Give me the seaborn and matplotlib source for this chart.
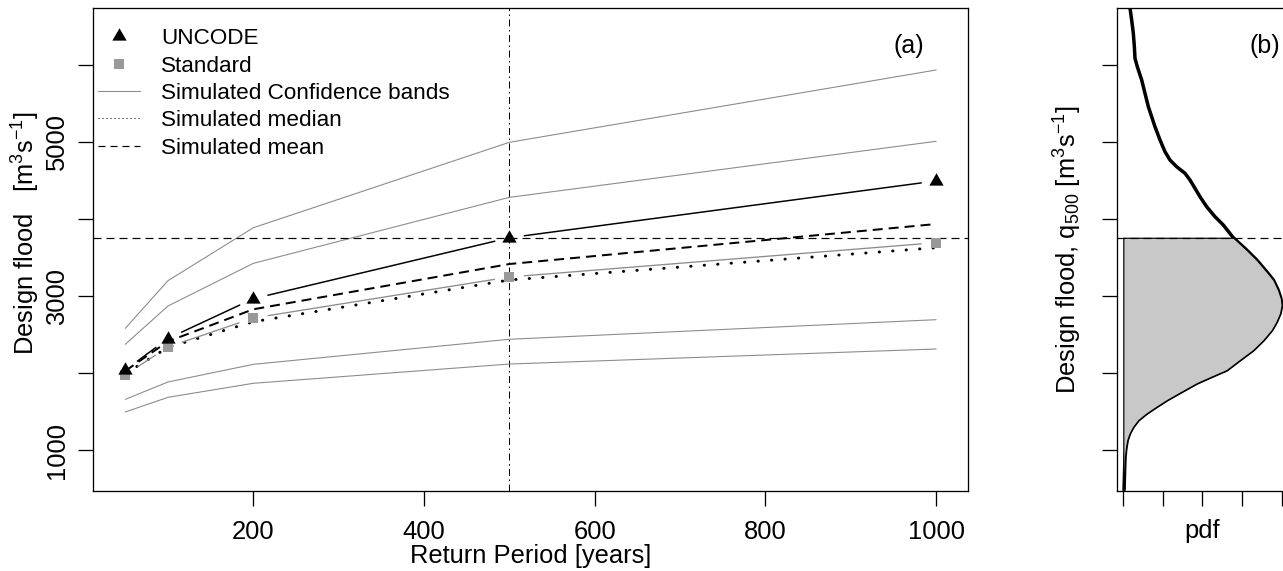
import numpy as np
import pandas as pd
import matplotlib
matplotlib.use("Agg")
import matplotlib.pyplot as plt
from matplotlib.lines import Line2D
from matplotlib.path import Path
from matplotlib.markers import MarkerStyle
import seaborn as sns

# ---------------- data ----------------
return_period = [50, 100, 200, 500, 1000]
uncode = [2040, 2450, 2966, 3757, 4494]
standard = [1979, 2340, 2716, 3248, 3693]
sim_mean = [2030, 2412, 2829, 3416, 3935]
sim_median = [1995, 2335, 2668, 3209, 3628]
band_upper_outer = [2582, 3200, 3887, 4995, 5933]
band_upper_inner = [2375, 2872, 3425, 4281, 5008]
band_lower_inner = [1661, 1886, 2115, 2440, 2694]
band_lower_outer = [1497, 1687, 1869, 2119, 2314]
q500_threshold = 3757
selected_period = 500

pdf_flood = [6737, 6581, 6408, 6235, 6084, 5975, 5803, 5630, 5457, 5327, 5197,
             5025, 4873, 4765, 4678, 4593, 4506, 4398, 4289, 4160, 4030, 3922,
             3757, 3598, 3468, 3317, 3209, 3079, 2971, 2885, 2777, 2668, 2560,
             2431, 2300, 2174, 2041, 1947, 1869, 1760, 1652, 1566, 1480, 1393,
             1306, 1220, 1134, 1026, 917, 485]
pdf_density = [0.169, 0.211, 0.253, 0.279, 0.295, 0.354, 0.464, 0.548, 0.632,
               0.716, 0.800, 0.927, 1.053, 1.179, 1.348, 1.558, 1.684, 1.811,
               1.937, 2.105, 2.316, 2.526, 2.779, 3.115, 3.37, 3.62, 3.79, 3.91,
               3.98, 4.00, 3.96, 3.87, 3.75, 3.54, 3.28, 2.95, 2.61, 2.19, 1.85,
               1.47, 1.10, 0.84, 0.59, 0.38, 0.25, 0.16, 0.10, 0.065, 0.043, 0.018]

x_ticks = [200, 400, 600, 800, 1000]
x_tick_labels = ["200", "400", "600", "800", "1000"]
y_ticks = [1000, 2000, 3000, 4000, 5000, 6000]
y_tick_labels = ["1000", "", "3000", "", "5000", ""]
pdf_ticks = [0, 1, 2, 3, 4]

legend_labels = ["UNCODE", "Standard", "Simulated Confidence bands",
                 "Simulated median", "Simulated mean"]

# ---------------- style ----------------
DPI = 100
W, H = 1283, 571
PX = 72.0 / DPI          # points per pixel
FS = 25.5 * PX           # axis / tick font size
FS_LEG = 22.5 * PX       # legend font size

sns.set_theme(style="ticks")
plt.rcParams["font.family"] = ["Liberation Sans", "DejaVu Sans"]
plt.rcParams["mathtext.fontset"] = "custom"
plt.rcParams["mathtext.rm"] = "Liberation Sans"
plt.rcParams["mathtext.it"] = "Liberation Sans:italic"
plt.rcParams["mathtext.bf"] = "Liberation Sans:bold"
plt.rcParams["mathtext.default"] = "regular"
plt.rcParams["lines.scale_dashes"] = False
plt.rcParams["text.color"] = "black"
plt.rcParams["axes.labelcolor"] = "black"

BAND_GRAY = "#8c8c8c"
STD_GRAY = "#999999"
FILL_GRAY = "#c8c8c8"

fig = plt.figure(figsize=(W / DPI, H / DPI), dpi=DPI)
fig.patch.set_facecolor("white")


def px_rect(l, t, r, b):
    return [l / W, 1 - b / H, (r - l) / W, (b - t) / H]


ax = fig.add_axes(px_rect(92.7, 8, 968.3, 491))
axb = fig.add_axes(px_rect(1116.7, 8, 1288, 491))

for a in (ax, axb):
    a.set_facecolor("white")
    a.grid(False)
    for s in a.spines.values():
        s.set_visible(True)
        s.set_color("black")
        s.set_linewidth(1.3 * PX)
    a.tick_params(direction="out", length=15 * PX, width=1.3 * PX, color="black",
                  labelsize=FS, labelcolor="black")

XLIM = (11.8, 1037.7)
YLIM = (472, 6737)
ax.set_xlim(*XLIM)
ax.set_ylim(*YLIM)
axb.set_xlim(-0.167, 4.16)
axb.set_ylim(*YLIM)

# R-style filled triangle (centroid at the data point)
tri = MarkerStyle(Path([(0, 1.555), (1.347, -0.778), (-1.347, -0.778), (0, 1.555)],
                       [Path.MOVETO, Path.LINETO, Path.LINETO, Path.CLOSEPOLY]))
TRI_PX = 16.5
SQ_PX = 10

# ---------------- panel (a) ----------------
ax.axvline(selected_period, color="black", linewidth=1.0 * PX,
           linestyle=(0, (7 * PX, 3.5 * PX, 1.5 * PX, 3.5 * PX)), zorder=1)
ax.axhline(q500_threshold, color="black", linewidth=1.2 * PX,
           linestyle=(0, (8 * PX, 5 * PX)), zorder=4)

for band in (band_upper_outer, band_upper_inner, band_lower_inner, band_lower_outer):
    sns.lineplot(x=return_period, y=band, ax=ax, color=BAND_GRAY,
                 linewidth=1.1 * PX, legend=False, zorder=2)

sns.lineplot(x=return_period, y=sim_mean, ax=ax, color="black", linewidth=2.0 * PX,
             linestyle=(0, (10 * PX, 6 * PX)), legend=False, zorder=3)
sns.lineplot(x=return_period, y=sim_median, ax=ax, color="black", linewidth=3.0 * PX,
             linestyle=(0, (0.3 * PX, 13.2 * PX)), dash_capstyle="round",
             legend=False, zorder=3)

ax.set_xlim(*XLIM)
ax.set_ylim(*YLIM)


def gapped_segments(xs, ys, gap_px):
    """Segments between consecutive points, shortened near the points (R type='b')."""
    tr = ax.transData
    inv = tr.inverted()
    pts = tr.transform(np.column_stack([xs, ys]).astype(float))
    rows = []
    for i in range(len(pts) - 1):
        p0, p1 = pts[i], pts[i + 1]
        d = p1 - p0
        u = d / np.hypot(d[0], d[1])
        ends = inv.transform(np.vstack([p0 + u * gap_px, p1 - u * gap_px]))
        for xd, yd in ends:
            rows.append({"seg": i, "x": xd, "y": yd})
    return pd.DataFrame(rows)


sns.lineplot(data=gapped_segments(return_period, standard, 15), x="x", y="y",
             units="seg", estimator=None, sort=False, color=BAND_GRAY,
             linewidth=1.3 * PX, ax=ax, legend=False, zorder=3)
sns.lineplot(data=gapped_segments(return_period, uncode, 15), x="x", y="y",
             units="seg", estimator=None, sort=False, color="black",
             linewidth=1.5 * PX, ax=ax, legend=False, zorder=3)

sns.scatterplot(x=return_period, y=standard, ax=ax, marker="s", s=(SQ_PX * PX) ** 2,
                color=STD_GRAY, linewidth=0, zorder=5, legend=False)
sns.scatterplot(x=return_period, y=uncode, ax=ax, marker=tri, s=(TRI_PX * PX) ** 2,
                color="black", linewidth=0, zorder=6, legend=False)

ax.set_xlim(*XLIM)
ax.set_ylim(*YLIM)

ax.set_xticks(x_ticks)
ax.set_xticklabels(x_tick_labels)
ax.tick_params(axis="x", pad=14 * PX)
ax.set_yticks(y_ticks)
ax.set_yticklabels(y_tick_labels, rotation=90, va="center")
ax.tick_params(axis="y", pad=9 * PX)

ax.set_xlabel("Return Period [years]", fontsize=FS)
ax.xaxis.set_label_coords(0.5, -0.1484)
ax.xaxis.label.set_va("baseline")
ax.set_ylabel("Design flood   [m$^{3}$s$^{-1}$]", fontsize=FS)
ax.yaxis.set_label_coords(-0.0659, 0.533)
ax.yaxis.label.set_va("baseline")

ax.text(0.9323, 0.9213, "(a)", transform=ax.transAxes, ha="center", va="center",
        fontsize=25 * PX)

handles = [
    Line2D([], [], marker=tri, color="black", linestyle="none", markersize=TRI_PX * PX,
           markeredgewidth=0),
    Line2D([], [], marker="s", color=STD_GRAY, linestyle="none", markersize=SQ_PX * PX,
           markeredgewidth=0),
    Line2D([], [], color=BAND_GRAY, linewidth=1.1 * PX),
    Line2D([], [], color="black", linewidth=1.0 * PX, linestyle=(0, (1 * PX, 3 * PX))),
    Line2D([], [], color="black", linewidth=1.2 * PX, linestyle=(0, (7 * PX, 5 * PX))),
]
ax.legend(handles, legend_labels, loc="upper left", bbox_to_anchor=(0.006, 0.9582),
          frameon=False, fontsize=FS_LEG, handlelength=1.87, handletextpad=0.93,
          labelspacing=0.284, borderaxespad=0, borderpad=0)

# ---------------- panel (b) ----------------
sns.lineplot(x=pdf_density, y=pdf_flood, ax=axb, sort=False, estimator=None,
             color="black", linewidth=3.5 * PX, legend=False, zorder=2)
q = np.array(pdf_flood, dtype=float)
dens = np.array(pdf_density, dtype=float)
mask = q <= q500_threshold
axb.fill_betweenx(q[mask], 0, dens[mask], facecolor=FILL_GRAY, edgecolor="black",
                  linewidth=1.2 * PX, zorder=3)
axb.axhline(q500_threshold, color="black", linewidth=1.2 * PX,
            linestyle=(0, (8 * PX, 5 * PX)), zorder=4)

axb.set_xlim(-0.167, 4.16)
axb.set_ylim(*YLIM)
axb.set_xticks(pdf_ticks)
axb.set_xticklabels([])
axb.set_yticks(y_ticks)
axb.set_yticklabels([])
axb.set_xlabel("pdf", fontsize=FS)
axb.xaxis.set_label_coords(0.498, -0.0973)
axb.xaxis.label.set_va("baseline")
axb.set_ylabel("Design flood, q$_{500}$ [m$^{3}$s$^{-1}$]", fontsize=FS)
axb.yaxis.set_label_coords(-0.2318, 0.5)
axb.yaxis.label.set_va("baseline")
axb.text(0.866, 0.9213, "(b)", transform=axb.transAxes, ha="center", va="center",
         fontsize=25 * PX)

fig.savefig("out.png", dpi=DPI, facecolor="white")
